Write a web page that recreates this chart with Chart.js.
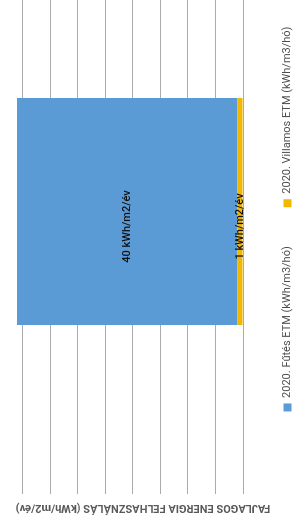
<!DOCTYPE html>
<html>
<head>
<meta charset="utf-8">
<script src="https://cdn.jsdelivr.net/npm/chart.js@4.4.1/dist/chart.umd.min.js"></script>
<style>
  html, body { margin: 0; padding: 0; background: #fff; }
  body { width: 300px; height: 527px; overflow: hidden; position: relative; }
  /* chart is drawn upright, then turned a quarter to the left like the reference */
  #wrap {
    position: absolute; left: 0; top: 0;
    width: 640px; height: 330px;
    transform-origin: 0 0;
    transform: translate(-20px, 527px) rotate(-90deg);
  }
</style>
</head>
<body>
<div id="wrap"><canvas id="myChart" width="640" height="330"></canvas></div>
<script>
'use strict';

let categories = ['2020'];
let seriesNames = ['2020. Villamos ETM (kWh/m3/hó)', '2020. Fűtés ETM (kWh/m3/hó)'];
let villamosValues = [1];
let futesValues = [40];
let unitText = 'kWh/m2/év';
let axisTitle = 'FAJLAGOS ENERGIA FELHASZNÁLÁS (kWh/m2/év)';
let axisMax = 45;
let axisStep = 5;

let fontName = 'Roboto, "Open Sans", sans-serif';

// labels in the middle of each bar piece
const barLabels = {
  id: 'barLabels',
  afterDatasetsDraw(chart) {
    let ctx = chart.ctx;
    ctx.save();
    ctx.font = '500 11px ' + fontName;
    ctx.fillStyle = '#111';
    ctx.textAlign = 'center';
    ctx.textBaseline = 'middle';
    chart.data.datasets.forEach(function (ds, i) {
      let meta = chart.getDatasetMeta(i);
      meta.data.forEach(function (bar, j) {
        let midY = (bar.y + bar.base) / 2;
        ctx.fillText(ds.data[j] + ' ' + unitText, bar.x - 15, midY);
      });
    });
    ctx.restore();
  }
};

// value axis title, placed the way the original sheet had it
const sideTitle = {
  id: 'sideTitle',
  afterDraw(chart) {
    let ctx = chart.ctx;
    let area = chart.chartArea;
    ctx.save();
    ctx.translate(area.left - 19, area.top + 148);
    ctx.rotate(-Math.PI / 2);
    ctx.font = 'bold 11px ' + fontName;
    ctx.fillStyle = '#595959';
    ctx.textAlign = 'center';
    ctx.textBaseline = 'middle';
    ctx.fillText(axisTitle, 0, 0);
    ctx.restore();
  }
};

const chartSetup = {
  type: 'bar',
  data: {
    labels: categories,
    datasets: [{
      label: seriesNames[0],
      data: villamosValues,
      backgroundColor: 'rgb(242, 183, 0)',
      borderWidth: 0,
      barPercentage: 1,
      categoryPercentage: 0.409
    },
    {
      label: seriesNames[1],
      data: futesValues,
      backgroundColor: 'rgb(91, 155, 213)',
      borderWidth: 0,
      barPercentage: 1,
      categoryPercentage: 0.409
    }]
  },
  options: {
    responsive: false,
    animation: false,
    devicePixelRatio: 1,
    layout: {
      padding: { left: 23, right: 47, top: 15, bottom: 7 }
    },
    scales: {
      x: {
        display: false,
        stacked: true
      },
      y: {
        stacked: true,
        min: 0,
        max: axisMax,
        ticks: { display: false, stepSize: axisStep },
        grid: { color: '#ababab', lineWidth: 1, tickLength: 5 },
        border: { display: false },
        afterFit(scale) { scale.width = 15; }
      }
    },
    plugins: {
      tooltip: { enabled: false },
      legend: {
        position: 'bottom',
        reverse: true,
        labels: {
          boxWidth: 8,
          boxHeight: 8,
          padding: 39,
          color: '#4d4d4d',
          font: { family: fontName, size: 11 }
        }
      }
    }
  },
  plugins: [barLabels, sideTitle]
};

let canvasChart = document.getElementById('myChart').getContext('2d');
const myChart = new Chart(canvasChart, chartSetup);
</script>
</body>
</html>
